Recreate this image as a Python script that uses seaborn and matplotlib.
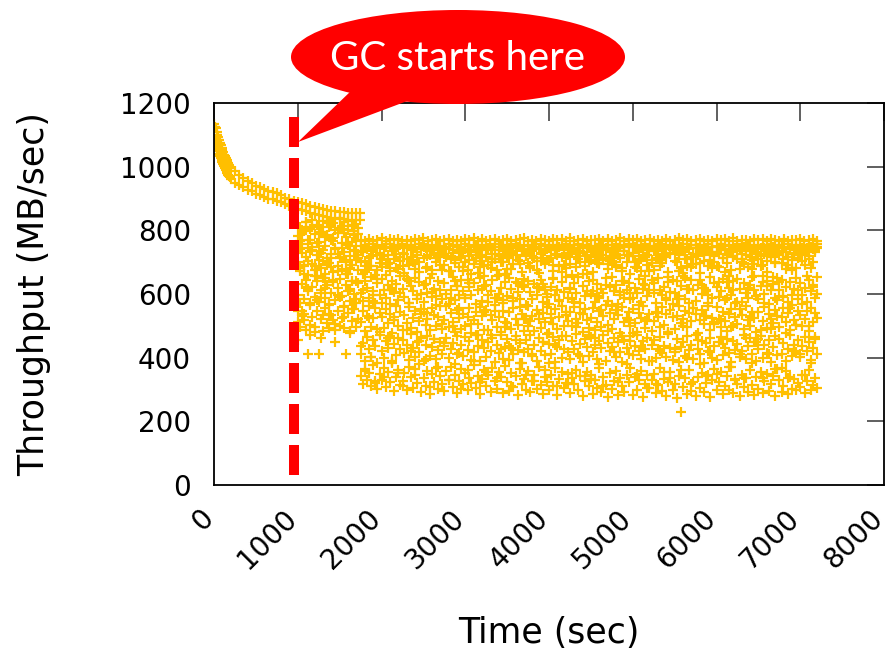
import numpy as np
import pandas as pd
import matplotlib
matplotlib.use("Agg")
import matplotlib.pyplot as plt
import matplotlib.transforms as mtransforms
from matplotlib.patches import Ellipse, Polygon
import seaborn as sns

# ---------------- data ----------------
# upper band before the drop (steady decay of throughput)
band_pre_time = [0, 10, 20, 30, 40, 50, 60, 70, 80, 90, 100, 110, 120, 130, 140, 150, 160, 170, 180, 190, 200,
                 250, 300, 350, 400, 450, 500, 550, 600, 650, 700,
                 750, 800, 850, 900, 950, 1000, 1050, 1100, 1150, 1200,
                 1250, 1300, 1350, 1400, 1450, 1500, 1550, 1600, 1650, 1700, 1740]
band_pre_hi = [1135, 1125, 1120, 1110, 1100, 1092, 1085, 1075, 1068, 1060, 1052, 1045, 1038, 1032, 1026, 1020, 1015, 1010, 1005, 1000, 996,
               985, 975, 965, 955, 948, 940, 935, 930, 925, 920,
               916, 910, 903, 897, 893, 890, 886, 882, 878, 874,
               871, 867, 864, 862, 860, 858, 857, 856, 855, 854, 853]
band_pre_lo = [1080, 1075, 1070, 1065, 1055, 1048, 1040, 1035, 1028, 1022, 1015, 1008, 1002, 996, 990, 985, 980, 975, 970, 966, 962,
               950, 942, 935, 928, 922, 915, 910, 905, 900, 897,
               893, 888, 882, 876, 871, 868, 864, 860, 856, 852,
               849, 845, 842, 840, 838, 836, 835, 834, 833, 832, 831]

# upper band after the drop at ~1750 s
band_post_time = [1755, 1800, 1850, 1900, 1950, 2000, 2050, 2100, 2150, 2200,
                  2250, 2300, 2350, 2400, 2450, 2500, 2550, 2600, 2650, 2700,
                  2750, 2800, 2850, 2900, 2950, 3000, 3050, 3100, 3150, 3200,
                  3250, 3300, 3350, 3400, 3450, 3500, 3550, 3600, 3650, 3700,
                  3750, 3800, 3850, 3900, 3950, 4000, 4050, 4100, 4150, 4200,
                  4250, 4300, 4350, 4400, 4450, 4500, 4550, 4600, 4650, 4700,
                  4750, 4800, 4850, 4900, 4950, 5000, 5050, 5100, 5150, 5200,
                  5250, 5300, 5350, 5400, 5450, 5500, 5550, 5600, 5650, 5700,
                  5750, 5800, 5850, 5900, 5950, 6000, 6050, 6100, 6150, 6200,
                  6250, 6300, 6350, 6400, 6450, 6500, 6550, 6600, 6650, 6700,
                  6750, 6800, 6850, 6900, 6950, 7000, 7050, 7100, 7150, 7200]
band_post_hi = [771, 768, 773, 766, 770, 775, 767, 772, 769, 774,
                766, 771, 768, 773, 770, 776, 767, 769, 772, 765,
                770, 774, 768, 771, 767, 773, 769, 775, 766, 772,
                768, 771, 774, 767, 770, 773, 766, 769, 772, 775,
                768, 770, 767, 773, 771, 766, 774, 769, 772, 768,
                775, 767, 770, 773, 766, 771, 769, 774, 768, 772,
                767, 770, 775, 766, 772, 769, 773, 768, 771, 774,
                766, 770, 768, 773, 767, 771, 775, 769, 772, 766,
                770, 774, 768, 771, 767, 773, 769, 772, 766, 775,
                768, 771, 770, 767, 773, 769, 774, 766, 772, 770,
                768, 773, 767, 771, 769, 774, 766, 770, 772, 768]
band_post_lo = [752, 755, 749, 757, 751, 754, 748, 756, 750, 753,
                757, 750, 754, 748, 756, 751, 753, 749, 755, 752,
                749, 756, 751, 754, 748, 757, 750, 753, 755, 749,
                754, 751, 757, 749, 753, 750, 756, 752, 748, 755,
                751, 754, 749, 756, 752, 748, 755, 750, 753, 757,
                749, 753, 756, 750, 754, 751, 748, 757, 752, 755,
                753, 749, 755, 751, 757, 750, 754, 748, 756, 752,
                750, 756, 752, 749, 755, 753, 751, 757, 748, 754,
                755, 750, 753, 757, 749, 752, 756, 751, 754, 748,
                752, 757, 750, 754, 751, 755, 749, 753, 756, 750,
                754, 749, 756, 751, 753, 748, 755, 752, 750, 757]

# scattered cloud during GC, 1000-1750 s
early_time = [1004, 1027, 1052, 1076, 1101, 1125, 1149, 1176, 1200, 1224,
              1251, 1277, 1299, 1326, 1350, 1374, 1402, 1425, 1448, 1477,
              1500, 1524, 1551, 1575, 1598, 1626, 1652, 1675, 1699, 1724]
early_a = [512, 495, 530, 538, 487, 413, 503, 529, 482, 546, 412, 521, 485, 556, 509,
           492, 534, 517, 488, 548, 501, 526, 493, 410, 540, 484, 515, 553, 497, 520]
early_b = [598, 572, 631, 584, 645, 609, 566, 622, 590, 640, 575, 613, 651, 587, 627,
           569, 604, 638, 581, 619, 647, 593, 562, 629, 608, 579, 642, 600, 571, 634]
early_c = [702, 671, 728, 689, 717, 660, 735, 694, 676, 722, 708, 683, 739, 664, 713,
           697, 726, 669, 741, 687, 715, 678, 732, 700, 663, 720, 691, 737, 706, 674]
early_d = [781, 812, 757, 798, 825, 769, 804, 748, 789, 818, 763, 796, 830, 752, 785,
           810, 771, 822, 744, 793, 807, 760, 826, 778, 801, 750, 815, 787, 767, 808]
early_e = [456, 765, 548, 690, 802, 615, 470, 738, 655, 580, 791, 462, 705, 620, 825,
           538, 684, 775, 448, 596, 712, 815, 560, 663, 754, 478, 642, 799, 585, 722]
early_f = [815, 742, 788, 663, 826, 705, 771, 834, 689, 759, 812, 728, 796, 650, 781,
           823, 714, 767, 801, 672, 838, 745, 792, 708, 829, 681, 763, 817, 736, 790]
early_g = [548, 683, 796, 517, 622, 744, 571, 809, 497, 658, 735, 602, 533, 778, 691,
           566, 820, 644, 506, 727, 591, 803, 529, 671, 760, 616, 553, 786, 641, 712]

# scattered cloud after 1750 s
cloud_time = [1752, 1776, 1801, 1827, 1849, 1874, 1902, 1925, 1951, 1977,
              2003, 2024, 2049, 2076, 2101, 2127, 2150, 2174, 2199, 2226,
              2251, 2274, 2302, 2325, 2349, 2376, 2400, 2427, 2451, 2473,
              2502, 2526, 2548, 2575, 2601, 2624, 2651, 2677, 2699, 2725,
              2752, 2774, 2800, 2826, 2851, 2873, 2903, 2925, 2948, 2976,
              3001, 3027, 3050, 3073, 3102, 3124, 3151, 3176, 3199, 3226,
              3249, 3275, 3302, 3324, 3350, 3377, 3401, 3423, 3452, 3476,
              3499, 3527, 3551, 3574, 3600, 3626, 3649, 3675, 3703, 3725,
              3748, 3776, 3802, 3824, 3851, 3877, 3899, 3926, 3950, 3974,
              4002, 4025, 4049, 4076, 4101, 4123, 4150, 4177, 4199, 4226,
              4252, 4273, 4301, 4325, 4348, 4376, 4402, 4424, 4451, 4475,
              4500, 4527, 4549, 4574, 4602, 4626, 4648, 4675, 4701, 4723,
              4751, 4776, 4800, 4825, 4852, 4874, 4899, 4927, 4950, 4973,
              5002, 5026, 5049, 5074, 5101, 5124, 5152, 5175, 5198, 5226,
              5251, 5274, 5300, 5327, 5349, 5373, 5402, 5425, 5450, 5476,
              5499, 5525, 5552, 5574, 5600, 5627, 5648, 5676, 5701, 5724,
              5750, 5777, 5800, 5823, 5851, 5876, 5901, 5925, 5948, 5975,
              6002, 6024, 6050, 6077, 6099, 6126, 6151, 6173, 6201, 6225,
              6249, 6276, 6300, 6324, 6352, 6375, 6398, 6426, 6451, 6474,
              6500, 6527, 6550, 6573, 6602, 6625, 6649, 6676, 6700, 6723,
              6751, 6777, 6799, 6825, 6851, 6874, 6902, 6926, 6948, 6975,
              7000, 7024, 7051, 7076, 7099, 7126, 7150, 7174, 7198]
cloud_low = [342, 318, 365, 330, 352, 312, 377, 326, 301, 348,
             331, 369, 309, 355, 322, 383, 296, 340, 361, 314,
             327, 352, 299, 371, 338, 305, 346, 320, 379, 292,
             336, 310, 358, 287, 349, 324, 366, 302, 341, 318,
             295, 357, 330, 372, 308, 345, 289, 328, 363, 316,
             351, 298, 337, 319, 376, 304, 343, 285, 332, 360,
             311, 347, 293, 368, 326, 301, 355, 339, 288, 374,
             323, 296, 352, 309, 341, 282, 365, 317, 334, 300,
             358, 291, 328, 346, 303, 371, 314, 287, 339, 325,
             297, 344, 312, 367, 284, 333, 356, 305, 321, 348,
             289, 335, 318, 362, 299, 342, 281, 327, 354, 310,
             344, 286, 330, 306, 369, 293, 338, 315, 278, 351,
             302, 326, 359, 284, 337, 311, 292, 347, 323, 366,
             283, 340, 298, 331, 357, 276, 318, 345, 304, 329,
             349, 290, 313, 368, 295, 334, 280, 322, 355, 299,
             316, 272, 341, 228, 308, 336, 287, 361, 294, 325,
             281, 338, 306, 352, 291, 319, 347, 277, 330, 364,
             297, 324, 355, 285, 312, 343, 300, 371, 289, 333,
             318, 279, 346, 307, 335, 292, 360, 314, 283, 339,
             301, 356, 288, 327, 349, 296, 317, 342, 281, 365,
             329, 293, 312, 358, 286, 340, 303, 333, 297, 321,
             309, 345, 288, 326, 362, 298, 315, 337, 304]
cloud_midlow = [412, 447, 391, 465, 428, 403, 456, 437, 384, 470,
                421, 398, 452, 431, 469, 387, 443, 409, 461, 426,
                455, 416, 439, 392, 474, 429, 401, 448, 419, 463,
                388, 441, 467, 406, 433, 459, 395, 424, 450, 413,
                437, 462, 399, 427, 445, 381, 468, 415, 440, 404,
                466, 423, 451, 394, 418, 472, 436, 389, 457, 430,
                402, 449, 420, 463, 386, 441, 414, 471, 397, 435,
                458, 393, 430, 411, 467, 425, 446, 383, 419, 454,
                427, 470, 405, 439, 390, 461, 422, 448, 408, 473,
                444, 411, 464, 385, 432, 456, 400, 426, 469, 417,
                396, 453, 428, 475, 410, 442, 385, 460, 433, 404,
                465, 418, 440, 397, 452, 429, 471, 391, 446, 421,
                434, 462, 403, 448, 419, 386, 457, 430, 412, 468,
                409, 437, 470, 422, 395, 451, 428, 463, 388, 441,
                455, 399, 426, 466, 414, 438, 402, 473, 431, 392,
                418, 460, 387, 434, 449, 406, 468, 423, 440, 397,
                471, 428, 413, 452, 384, 445, 420, 463, 399, 436,
                392, 448, 466, 407, 430, 458, 415, 387, 453, 425,
                444, 403, 421, 470, 397, 436, 462, 411, 449, 389,
                426, 469, 398, 441, 416, 454, 385, 432, 467, 408,
                459, 413, 447, 390, 428, 472, 405, 440, 419, 456,
                401, 437, 465, 420, 449, 394, 431, 460, 412]
cloud_mid = [512, 548, 483, 530, 561, 497, 524, 556, 489, 540,
             527, 494, 553, 508, 538, 478, 519, 562, 501, 545,
             486, 533, 510, 559, 492, 526, 547, 481, 515, 552,
             544, 503, 521, 488, 557, 535, 498, 529, 563, 507,
             518, 561, 495, 541, 513, 482, 550, 524, 490, 537,
             499, 529, 556, 476, 519, 543, 505, 560, 532, 486,
             551, 488, 534, 517, 564, 496, 528, 480, 546, 513,
             508, 542, 491, 555, 523, 502, 559, 536, 485, 520,
             563, 514, 530, 484, 549, 521, 493, 540, 511, 558,
             479, 537, 506, 552, 490, 527, 561, 499, 533, 516,
             545, 498, 560, 522, 509, 539, 481, 554, 517, 492,
             525, 557, 487, 513, 546, 497, 531, 564, 504, 539,
             491, 520, 549, 535, 478, 558, 511, 526, 545, 500,
             553, 508, 482, 540, 524, 561, 494, 517, 536, 485,
             516, 544, 527, 495, 559, 503, 538, 482, 550, 529,
             489, 530, 562, 509, 520, 547, 497, 541, 514, 556,
             538, 477, 519, 550, 505, 532, 563, 488, 524, 511,
             560, 521, 496, 543, 515, 484, 536, 554, 500, 528,
             507, 552, 533, 490, 561, 519, 498, 545, 526, 480,
             542, 486, 515, 558, 493, 537, 522, 509, 551, 531,
             496, 528, 555, 513, 540, 487, 564, 518, 503, 547,
             534, 499, 521, 548, 483, 557, 512, 539, 526]
cloud_midhigh = [602, 578, 641, 619, 587, 653, 610, 571, 634, 596,
                 648, 613, 589, 627, 570, 642, 605, 632, 582, 655,
                 617, 592, 646, 573, 625, 608, 651, 585, 639, 600,
                 575, 630, 603, 649, 590, 616, 567, 640, 611, 583,
                 636, 599, 568, 614, 652, 581, 625, 596, 644, 609,
                 586, 645, 621, 597, 633, 569, 612, 650, 577, 624,
                 628, 576, 609, 643, 588, 655, 601, 620, 572, 638,
                 594, 651, 615, 579, 637, 606, 584, 629, 647, 566,
                 641, 607, 583, 631, 598, 618, 645, 574, 612, 590,
                 569, 623, 648, 596, 613, 580, 637, 605, 654, 586,
                 615, 585, 636, 602, 653, 571, 626, 593, 609, 642,
                 599, 644, 575, 630, 588, 617, 603, 650, 578, 621,
                 652, 610, 627, 570, 605, 640, 589, 614, 635, 583,
                 587, 619, 603, 648, 576, 630, 655, 595, 612, 644,
                 633, 572, 650, 611, 597, 622, 580, 639, 606, 568,
                 604, 640, 593, 625, 657, 584, 616, 571, 645, 613,
                 578, 628, 645, 599, 620, 609, 573, 652, 587, 634,
                 623, 591, 608, 647, 581, 638, 619, 596, 641, 572,
                 647, 616, 574, 635, 602, 589, 628, 653, 611, 594,
                 583, 625, 657, 600, 642, 570, 613, 631, 588, 649,
                 612, 645, 590, 623, 575, 639, 598, 616, 651, 584,
                 636, 597, 619, 575, 643, 608, 628, 586, 654]
cloud_high = [702, 731, 668, 745, 714, 689, 738, 661, 723, 697,
              684, 720, 748, 695, 673, 736, 709, 742, 679, 715,
              728, 665, 711, 690, 743, 705, 677, 733, 699, 748,
              712, 746, 686, 724, 663, 737, 701, 718, 744, 675,
              691, 719, 740, 672, 729, 708, 747, 685, 714, 732,
              741, 676, 706, 733, 695, 748, 667, 722, 703, 687,
              716, 745, 682, 710, 738, 674, 727, 699, 744, 662,
              679, 713, 736, 693, 724, 747, 705, 670, 739, 718,
              734, 688, 720, 748, 703, 666, 729, 712, 694, 742,
              707, 739, 671, 726, 745, 689, 715, 737, 681, 722,
              693, 728, 746, 684, 711, 735, 664, 720, 748, 701,
              740, 669, 717, 738, 695, 724, 708, 744, 678, 731,
              712, 743, 690, 723, 747, 683, 736, 701, 719, 662,
              729, 685, 741, 705, 672, 737, 716, 692, 745, 708,
              676, 734, 713, 748, 697, 720, 742, 668, 726, 739,
              743, 702, 727, 681, 738, 710, 689, 746, 715, 694,
              719, 746, 665, 731, 704, 741, 687, 723, 748, 700,
              688, 725, 744, 714, 739, 696, 730, 675, 718, 745,
              735, 678, 709, 747, 721, 684, 742, 706, 693, 733,
              711, 743, 691, 726, 668, 738, 717, 747, 700, 729,
              746, 697, 731, 678, 715, 744, 708, 726, 683, 740,
              722, 745, 690, 734, 711, 748, 699, 737, 744]
cloud_upper = [734, 662, 705, 741, 688, 719, 597, 746, 676, 728,
               711, 743, 659, 724, 698, 612, 737, 681, 749, 703,
               689, 726, 745, 641, 715, 738, 694, 722, 668, 740,
               747, 683, 718, 736, 605, 729, 712, 748, 690, 731,
               725, 744, 672, 709, 739, 696, 626, 733, 717, 686,
               702, 737, 719, 664, 748, 713, 731, 684, 742, 655,
               739, 692, 745, 727, 711, 588, 720, 749, 701, 734,
               716, 741, 679, 730, 744, 707, 693, 738, 621, 723,
               698, 729, 747, 714, 676, 740, 725, 632, 735, 708,
               744, 713, 690, 737, 721, 749, 668, 726, 712, 741,
               728, 661, 738, 717, 745, 700, 733, 687, 722, 746,
               707, 736, 722, 595, 731, 748, 714, 739, 693, 720,
               742, 699, 727, 746, 712, 671, 735, 724, 749, 604,
               718, 747, 683, 732, 709, 740, 629, 721, 738, 696,
               735, 710, 744, 689, 726, 743, 717, 652, 730, 748,
               703, 739, 724, 748, 667, 733, 711, 745, 686, 727,
               746, 721, 696, 738, 729, 614, 742, 708, 733, 719,
               731, 685, 747, 712, 740, 723, 658, 736, 715, 744,
               709, 742, 727, 693, 734, 748, 716, 680, 739, 725,
               740, 718, 639, 745, 705, 731, 722, 747, 697, 736,
               722, 748, 711, 733, 690, 741, 674, 729, 745, 713,
               737, 703, 728, 746, 719, 682, 741, 732, 748]
cloud_spread = [436, 612, 358, 689, 524, 401, 577, 319, 648, 482,
                571, 338, 694, 463, 612, 390, 528, 725, 351, 604,
                312, 655, 487, 573, 421, 702, 365, 598, 452, 536,
                628, 395, 541, 307, 676, 459, 593, 370, 718, 489,
                447, 716, 329, 587, 498, 640, 412, 555, 302, 671,
                587, 361, 633, 506, 389, 721, 470, 323, 615, 544,
                355, 598, 471, 702, 548, 336, 661, 428, 580, 496,
                662, 437, 310, 589, 457, 634, 383, 741, 522, 347,
                501, 683, 413, 327, 622, 536, 705, 448, 361, 599,
                384, 526, 651, 441, 312, 579, 467, 690, 545, 318,
                619, 352, 575, 496, 728, 405, 537, 341, 662, 472,
                333, 610, 462, 697, 381, 549, 312, 628, 484, 703,
                561, 417, 685, 323, 596, 468, 641, 379, 518, 452,
                476, 699, 348, 565, 432, 617, 515, 306, 673, 389,
                602, 318, 539, 421, 708, 356, 589, 482, 337, 645,
                427, 583, 672, 362, 501, 649, 398, 617, 316, 556,
                694, 454, 379, 628, 531, 342, 597, 418, 681, 507,
                349, 637, 518, 442, 669, 586, 371, 495, 613, 329,
                574, 412, 701, 337, 462, 619, 529, 383, 655, 448,
                458, 687, 336, 571, 624, 413, 491, 652, 365, 582,
                637, 368, 593, 479, 335, 556, 682, 421, 504, 611,
                412, 569, 346, 657, 498, 382, 623, 466, 601]

gc_start = 960          # time of the dashed marker (sec)
gc_line_top = 1156      # throughput range covered by the dashed marker
gc_line_bottom = 25

x_ticks = [0, 1000, 2000, 3000, 4000, 5000, 6000, 7000, 8000]
y_ticks = [0, 200, 400, 600, 800, 1000, 1200]

# ---------------- assemble table ----------------
times, values = [], []
def add(ts, vs):
    for t, v in zip(ts, vs):
        times.append(t)
        values.append(v)

add(band_pre_time, band_pre_hi)
add(band_pre_time, band_pre_lo)
add(band_post_time, band_post_hi)
add(band_post_time, band_post_lo)
for col in (early_a, early_b, early_c, early_d, early_e, early_f, early_g):
    add(early_time, col)
for col in (cloud_low, cloud_midlow, cloud_mid, cloud_midhigh, cloud_high,
            cloud_upper, cloud_spread):
    add(cloud_time, col)
df = pd.DataFrame({"time": times, "throughput": values})

# ---------------- plot ----------------
sns.set_style("white")
plt.rcParams["font.family"] = ["DejaVu Sans"]
plt.rcParams["text.color"] = "black"

W, H = 890, 650
fig = plt.figure(figsize=(W / 100, H / 100), dpi=100)
L, R, T, B = 214, 884, 103, 485
ax = fig.add_axes([L / W, 1 - B / H, (R - L) / W, (B - T) / H])

sns.scatterplot(data=df, x="time", y="throughput", marker="+", color="#FFBF00",
                s=56, linewidth=1.6, alpha=1.0, ax=ax, legend=False, zorder=2)

ax.plot([gc_start, gc_start], [gc_line_top, gc_line_bottom], color="#FF0000",
        lw=7.2, dashes=(3.0, 1.1), zorder=4)

ax.set_xlim(0, 8000)
ax.set_ylim(0, 1200)
ax.set_xticks(x_ticks)
ax.set_yticks(y_ticks)
ax.set_yticklabels([str(v) for v in y_ticks])
ax.set_xticklabels([str(v) for v in x_ticks], rotation=45, ha="right", va="center",
                   rotation_mode="anchor")
ax.tick_params(axis="both", direction="in", length=12.6, width=1.2, color="#444444",
               top=True, right=True, labelsize=20, labelcolor="black")
ax.tick_params(axis="y", pad=16.5)
ax.tick_params(axis="x", pad=21)
shift = mtransforms.ScaledTranslation(-5 / 100, 0, fig.dpi_scale_trans)
for lab in ax.get_xticklabels():
    lab.set_transform(lab.get_transform() + shift)
for sp in ax.spines.values():
    sp.set_visible(True)
    sp.set_color("black")
    sp.set_linewidth(1.3)
ax.set_xlabel("")
ax.set_ylabel("")

fig.text(34 / W, 1 - 294 / H, "Throughput (MB/sec)", rotation=90, ha="center", va="center",
         fontsize=25, color="black")
fig.text(549 / W, 1 - 633 / H, "Time (sec)", ha="center", va="center", fontsize=25,
         color="black")

# speech bubble overlay in pixel coordinates
ov = fig.add_axes([0, 0, 1, 1], zorder=10)
ov.set_xlim(0, W)
ov.set_ylim(H, 0)
ov.axis("off")
ov.patch.set_alpha(0)
ov.add_patch(Ellipse((458, 57), 334, 94, facecolor="#FF0000", edgecolor="none"))
ov.add_patch(Polygon([(298, 142), (352, 90), (410, 100)], closed=True,
                     facecolor="#FF0000", edgecolor="none"))
ov.text(458, 59, "GC starts here", color="white", fontsize=29, ha="center", va="center",
        family=["Lato", "DejaVu Sans"])

fig.savefig("out.png", dpi=100)
